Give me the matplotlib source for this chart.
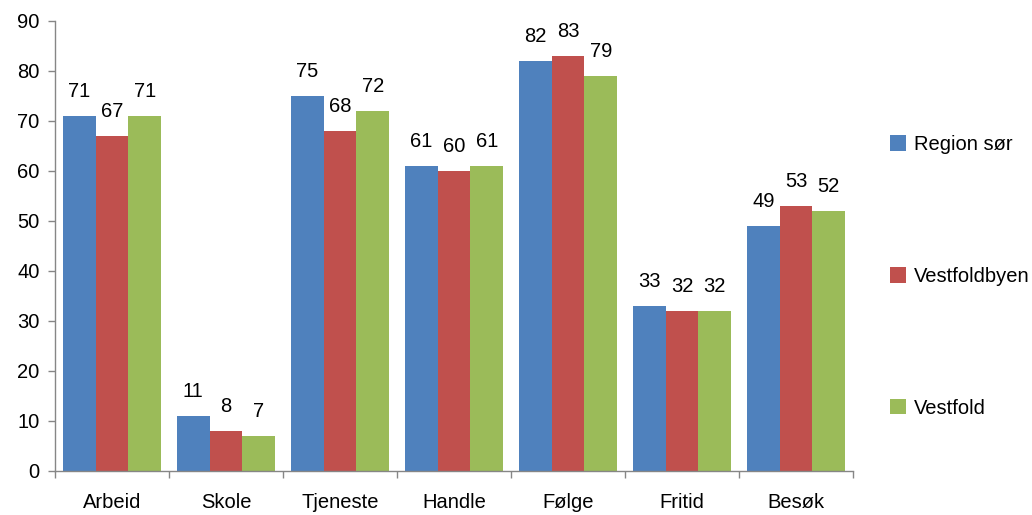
import matplotlib
matplotlib.use("Agg")
import matplotlib.pyplot as plt
import numpy as np

categories = ["Arbeid", "Skole", "Tjeneste", "Handle", "Følge", "Fritid", "Besøk"]
region_sor = [71, 11, 75, 61, 82, 33, 49]
vestfoldbyen = [67, 8, 68, 60, 83, 32, 53]
vestfold = [71, 7, 72, 61, 79, 32, 52]

series = [("Region sør", region_sor, "#4F81BD"),
          ("Vestfoldbyen", vestfoldbyen, "#C0504D"),
          ("Vestfold", vestfold, "#9BBB59")]

plt.rcParams["font.family"] = ["Liberation Sans", "DejaVu Sans"]
fs = 14.5

fig = plt.figure(figsize=(10.32, 5.15), dpi=100)
ax = fig.add_axes([55/1032, 44/515, 798/1032, 450/515])

x = np.arange(len(categories))
w = 0.287
handles = []
for i, (name, vals, col) in enumerate(series):
    bars = ax.bar(x + (i - 1) * w, vals, width=w, color=col, label=name)
    handles.append(bars)
    for b, v in zip(bars, vals):
        ax.text(b.get_x() + b.get_width() / 2, v + 3.0, str(v),
                ha="center", va="bottom", fontsize=fs)

ax.set_xlim(-0.5, len(categories) - 0.5)
ax.set_ylim(0, 90)
ax.set_yticks(range(0, 91, 10))
ax.set_xticks(x)
ax.set_xticklabels(categories, fontsize=fs)
ax.set_xticks(np.arange(-0.5, len(categories)), minor=True)
ax.tick_params(axis="x", which="major", length=0, pad=16)
ax.tick_params(axis="x", which="minor", length=5, color="#868686", width=1)
ax.tick_params(axis="y", length=5, color="#868686", width=1, pad=6, labelsize=fs)
for s in ["top", "right"]:
    ax.spines[s].set_visible(False)
for s in ["left", "bottom"]:
    ax.spines[s].set_color("#868686")
    ax.spines[s].set_linewidth(1)

fig.legend(handles=handles, loc="upper left", bbox_to_anchor=(882/1032, 1 - 127/515),
           frameon=False, fontsize=fs, handlelength=0.8, handleheight=0.8,
           handletextpad=0.4, labelspacing=5.6, borderaxespad=0)

fig.savefig("out.png", dpi=100)
